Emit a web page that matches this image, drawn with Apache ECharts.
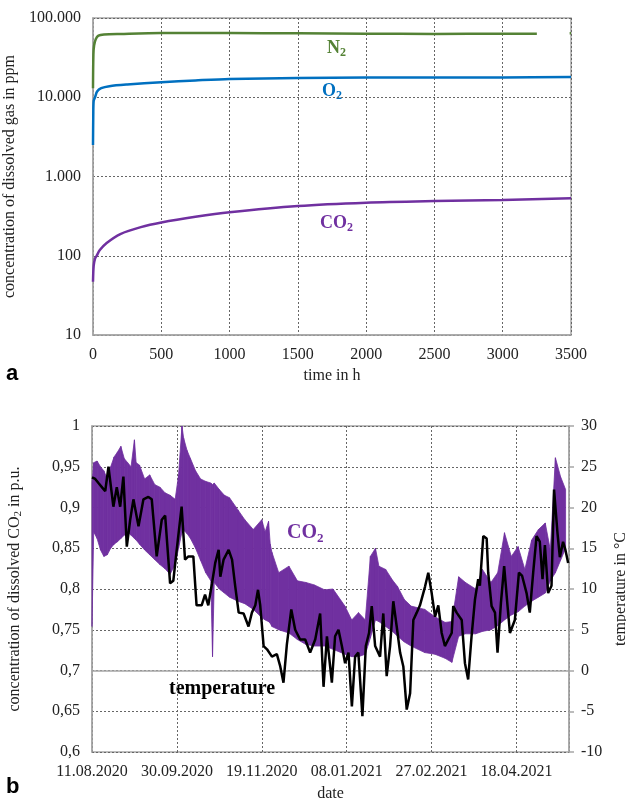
<!DOCTYPE html>
<html>
<head>
<meta charset="utf-8">
<script src="https://cdn.jsdelivr.net/npm/echarts@6/dist/echarts.min.js"></script>
<style>
  html, body { margin: 0; padding: 0; background: #fff; }
  #chart { width: 626px; height: 800px; }
</style>
</head>
<body>
<div id="chart"></div>
<script>
// (a) dissolved gas vs time, hours / ppm
var n2Time = [0, 3, 8, 20, 40, 80, 200, 500, 1000, 1500, 2000, 2500, 3000, 3250, null, 3490, 3500];
var n2Ppm  = [13000, 35000, 45000, 54000, 60000, 62000, 63000, 64500, 64500, 64000, 63500, 63000, 63500, 63500, null, 64000, 64000];
var o2Time = [0, 2, 5, 15, 30, 60, 120, 250, 500, 750, 1000, 1500, 2000, 2500, 3000, 3500];
var o2Ppm  = [2500, 6000, 9000, 10000, 11800, 13000, 13800, 14500, 15500, 16300, 17000, 17500, 17700, 17800, 17800, 18000];
var co2Time = [0, 5, 15, 27, 50, 100, 200, 350, 500, 750, 1000, 1500, 2000, 2500, 3000, 3500];
var co2Ppm  = [47, 75, 92, 100, 118, 145, 188, 230, 263, 310, 354, 425, 468, 490, 505, 530];
var logTicks = [10, 100, 1000, 10000, 100000];

// (b) field data, days since 11.08.2020
var startDate = Date.UTC(2020, 7, 11);
var bandDays = [0, 1, 3, 5, 7, 9, 11, 13, 15, 17, 19, 21, 23, 25, 26, 28, 31, 34, 37, 40, 43, 46, 49, 51, 53, 54, 56, 58, 61, 64, 67, 70, 71, 72, 75, 78, 81, 86, 90, 95, 100, 102, 104, 105, 106, 110, 116, 121, 126, 131, 137, 142, 149, 153, 157, 161, 164, 167, 169, 173, 177, 180, 184, 188, 196, 202, 208, 212, 216, 220, 226, 230, 235, 239, 243, 247, 251, 255, 259, 263, 267, 270, 273, 276, 279];
var co2High = [0.93, 0.955, 0.957, 0.95, 0.945, 0.935, 0.95, 0.962, 0.968, 0.975, 0.96, 0.955, 0.95, 0.983, 0.955, 0.952, 0.935, 0.94, 0.928, 0.925, 0.918, 0.915, 0.91, 0.94, 1.0, 0.985, 0.97, 0.96, 0.945, 0.935, 0.932, 0.93, 0.928, 0.93, 0.922, 0.915, 0.912, 0.897, 0.885, 0.873, 0.885, 0.87, 0.883, 0.855, 0.845, 0.82, 0.828, 0.81, 0.808, 0.805, 0.799, 0.80, 0.779, 0.762, 0.771, 0.762, 0.84, 0.85, 0.828, 0.824, 0.811, 0.803, 0.787, 0.779, 0.775, 0.766, 0.759, 0.76, 0.815, 0.808, 0.80, 0.824, 0.808, 0.82, 0.869, 0.84, 0.852, 0.824, 0.86, 0.873, 0.881, 0.848, 0.961, 0.938, 0.922];
var co2Low  = [0.754, 0.87, 0.862, 0.848, 0.84, 0.842, 0.85, 0.855, 0.858, 0.862, 0.866, 0.87, 0.866, 0.862, 0.86, 0.855, 0.848, 0.842, 0.836, 0.83, 0.825, 0.818, 0.83, 0.85, 0.87, 0.872, 0.868, 0.862, 0.85, 0.835, 0.82, 0.81, 0.717, 0.808, 0.80, 0.795, 0.79, 0.785, 0.782, 0.775, 0.765, 0.762, 0.76, 0.758, 0.754, 0.75, 0.746, 0.738, 0.732, 0.73, 0.73, 0.726, 0.72, 0.717, 0.717, 0.72, 0.74, 0.762, 0.76, 0.754, 0.748, 0.742, 0.735, 0.73, 0.722, 0.72, 0.715, 0.71, 0.742, 0.745, 0.745, 0.748, 0.75, 0.755, 0.762, 0.768, 0.772, 0.779, 0.785, 0.79, 0.795, 0.81, 0.82, 0.835, 0.85];
var tempDays = [0, 1.9, 3.8, 5.8, 7.8, 9.7, 12.6, 14.6, 16.6, 18.5, 20.5, 22.5, 24.4, 27.4, 30.3, 33.2, 35.2, 38.1, 41.1, 43.1, 46, 47.9, 49.9, 52.8, 54.8, 56.8, 59.7, 61.6, 64.6, 66.6, 68.5, 70.7, 72.6, 74.6, 75.6, 77.5, 80.5, 82.5, 84.4, 86.4, 89.3, 92.2, 94.2, 96.2, 97.8, 99.1, 101.1, 103.1, 106, 108.9, 110.9, 112.8, 114.8, 117.4, 119.7, 122.6, 125.6, 128.5, 131.5, 134.4, 136.4, 138.4, 139.3, 141.3, 143.2, 145.2, 147.2, 149.1, 151.1, 153.1, 155, 156.9, 159.3, 161.3, 163.2, 164.8, 166.8, 169.7, 171.6, 173.6, 175.6, 177.5, 179.5, 181.5, 183.4, 185.4, 187.4, 189.3, 191.3, 193.2, 196.2, 198.1, 200.1, 202.1, 204, 206, 207.9, 209.9, 211.9, 212.8, 214.8, 217.8, 219.7, 221.6, 223.6, 225.6, 227.5, 228.5, 230.5, 232.5, 233.4, 235.4, 237.4, 238.9, 240.9, 242.8, 244.8, 246.2, 249.1, 251.5, 253.4, 256, 257.9, 259.9, 261.9, 263.8, 265.4, 266.8, 268.7, 270.7, 272.2, 274.2, 275.6, 277.5, 278.9, 280.5];
var tempC = [23.7, 23.5, 23, 22.5, 22, 25, 20.1, 22.5, 20.1, 23.8, 15.2, 18.5, 21, 17.7, 21, 21.3, 21, 14, 18.5, 19, 10.7, 11, 14.8, 20.1, 13.6, 14, 14, 8, 8, 9.3, 8, 10.7, 13.2, 14.8, 11.5, 13.6, 14.8, 13.6, 10.3, 7.1, 7, 5.4, 7.1, 8, 9.9, 8, 3, 2.6, 1.7, 2, 0.5, -1.5, 3.2, 7.5, 5, 3.8, 3.8, 2.2, 3.8, 7, -2, 4.2, 4.2, -1.5, 4.2, 5, 3, 0.9, 2.2, -4.4, 1.7, 2.2, -5.6, 3, 4.6, 7.9, 3, 1.7, 7, -0.7, 3, 8.5, 5.4, 2.2, 0.5, -4.8, -2.8, 6.2, 7.1, 8, 10.3, 12, 9.5, 6.6, 8, 4.6, 3, 3.8, 4.6, 7.9, 7.1, 6.2, 0.9, -1.1, 4.2, 8.7, 11.2, 10.4, 16.5, 16.2, 12, 7.9, 7.1, 2.2, 8.3, 12.8, 7.9, 4.6, 6.2, 12, 11.6, 9.5, 7.1, 12, 16.5, 15.8, 11.2, 15.4, 9.5, 10.4, 22.2, 16.9, 13.9, 15.8, 14.8, 13.2];

function pairs(xs, ys) {
    var out = [];
    for (var i = 0; i < xs.length; i++) {
        out.push(xs[i] === null ? [null, null] : [xs[i], ys[i]]);
    }
    return out;
}
function pad(n) { return n < 10 ? '0' + n : '' + n; }
function dayLabel(d) {
    var dt = new Date(startDate + d * 86400000);
    return pad(dt.getUTCDate()) + '.' + pad(dt.getUTCMonth() + 1) + '.' + dt.getUTCFullYear();
}

// one item per segment of the band: [d0, low0, high0, d1, low1, high1]
var bandSegments = [];
for (var i = 0; i < bandDays.length - 1; i++) {
    bandSegments.push([bandDays[i], co2Low[i], co2High[i], bandDays[i + 1], co2Low[i + 1], co2High[i + 1]]);
}

var serif = '"Liberation Serif", "DejaVu Serif", serif';
var purple = '#7030a0';
var gridLine = { show: true, lineStyle: { color: '#666', type: [2, 2], width: 1 } };
var frame = { show: true, lineStyle: { color: '#a6a6a6', width: 1.5 } };
var tickFont = { color: '#222', fontFamily: serif, fontSize: 16 };
var nameFont = { color: '#222', fontFamily: serif, fontSize: 16 };

function subLabel(main, color, size) {
    return {
        text: '{b|' + main + '}{s|2}',
        rich: {
            b: { fontFamily: serif, fontWeight: 'bold', fontSize: size, fill: color },
            s: { fontFamily: serif, fontWeight: 'bold', fontSize: Math.round(size * 0.65), fill: color, padding: [Math.round(size * 0.55), 0, 0, 0] }
        }
    };
}

var chart = echarts.init(document.getElementById('chart'));
chart.setOption({
    animation: false,
    grid: [
        { left: 93, right: 55, top: 18, height: 317, outerBoundsMode: 'none', containLabel: false,
          show: true, borderColor: '#a6a6a6', borderWidth: 1.5 },
        { left: 92, right: 57, top: 426, height: 326, outerBoundsMode: 'none', containLabel: false,
          show: true, borderColor: '#a6a6a6', borderWidth: 1.5 }
    ],
    xAxis: [{
        gridIndex: 0, type: 'value', min: 0, max: 3500, interval: 500,
        name: 'time in h', nameLocation: 'middle', nameGap: 33, nameTextStyle: nameFont,
        axisLine: frame, axisTick: { show: false }, splitLine: gridLine,
        axisLabel: Object.assign({ margin: 12, formatter: function (v) { return String(v); } }, tickFont)
    }, {
        gridIndex: 1, type: 'value', min: 0, max: 281, interval: 50,
        name: 'date', nameLocation: 'middle', nameGap: 34, nameTextStyle: nameFont,
        axisLine: frame, axisTick: { show: false }, splitLine: gridLine,
        axisLabel: Object.assign({ margin: 12, showMaxLabel: false, formatter: dayLabel }, tickFont)
    }],
    yAxis: [{
        gridIndex: 0, type: 'log', logBase: 10, min: 10, max: 100000,
        name: 'concentration of dissolved gas in ppm', nameLocation: 'middle', nameGap: 70, nameRotate: 90,
        nameTextStyle: nameFont,
        axisLine: frame, axisTick: { show: false }, splitLine: gridLine,
        axisLabel: Object.assign({
            margin: 12,
            formatter: function (v) {
                var s = String(Math.round(v));
                return logTicks.indexOf(+s) > -1 ? s.replace(/\B(?=(\d{3})+(?!\d))/g, '.') : '';
            }
        }, tickFont)
    }, {
        gridIndex: 1, type: 'value', min: 0.6, max: 1, interval: 0.05,
        name: '{t|concentration of dissolved CO}{s|2}{t| in p.u.}', nameLocation: 'middle', nameGap: 68, nameRotate: 90,
        nameTextStyle: {
            color: '#222', fontFamily: serif, fontSize: 16,
            rich: {
                t: { color: '#222', fontFamily: serif, fontSize: 16 },
                s: { color: '#222', fontFamily: serif, fontSize: 11, padding: [8, 0, 0, 0] }
            }
        },
        axisLine: frame, axisTick: { show: false }, splitLine: gridLine,
        axisLabel: Object.assign({
            margin: 12,
            formatter: function (v) { return String(parseFloat(v.toFixed(2))).replace('.', ','); }
        }, tickFont)
    }, {
        gridIndex: 1, type: 'value', position: 'right', min: -10, max: 30, interval: 5,
        name: 'temperature in °C', nameLocation: 'middle', nameGap: 41, nameRotate: 90, nameTextStyle: nameFont,
        axisLine: frame, axisTick: { show: true, inside: false, length: 5, lineStyle: { color: '#a6a6a6', width: 1.5 } },
        splitLine: { show: false },
        axisLabel: Object.assign({ margin: 12 }, tickFont)
    }],
    series: [{
        name: 'N2', type: 'line', xAxisIndex: 0, yAxisIndex: 0,
        data: pairs(n2Time, n2Ppm), showSymbol: false, smooth: 0.3, connectNulls: false,
        lineStyle: { color: '#548235', width: 2.5 }
    }, {
        name: 'O2', type: 'line', xAxisIndex: 0, yAxisIndex: 0,
        data: pairs(o2Time, o2Ppm), showSymbol: false, smooth: 0.3,
        lineStyle: { color: '#0070c0', width: 2.5 }
    }, {
        name: 'CO2', type: 'line', xAxisIndex: 0, yAxisIndex: 0,
        data: pairs(co2Time, co2Ppm), showSymbol: false, smooth: 0.3,
        lineStyle: { color: purple, width: 2.5 }
    }, {
        // noisy CO2 signal drawn as its min/max band
        name: 'CO2 band', type: 'custom', xAxisIndex: 1, yAxisIndex: 1,
        data: bandSegments,
        encode: { x: [0, 3], y: [1, 2, 4, 5] },
        renderItem: function (params, api) {
            var lo0 = api.coord([api.value(0), api.value(1)]),
                hi0 = api.coord([api.value(0), api.value(2)]),
                lo1 = api.coord([api.value(3), api.value(4)]),
                hi1 = api.coord([api.value(3), api.value(5)]);
            return {
                type: 'polygon',
                shape: { points: [lo0, lo1, hi1, hi0] },
                style: { fill: purple, stroke: purple, lineWidth: 0.8 }
            };
        }
    }, {
        name: 'temperature', type: 'line', xAxisIndex: 1, yAxisIndex: 2,
        data: pairs(tempDays, tempC), showSymbol: false, z: 5,
        lineStyle: { color: '#000', width: 2.5 }
    }],
    graphic: [
        { type: 'text', left: 327, top: 39, style: subLabel('N', '#548235', 18) },
        { type: 'text', left: 322, top: 82, style: subLabel('O', '#0070c0', 18) },
        { type: 'text', left: 320, top: 214, style: subLabel('CO', purple, 18) },
        { type: 'text', left: 287, top: 523, style: subLabel('CO', purple, 20) },
        { type: 'text', left: 169, top: 679, style: { text: 'temperature', fontFamily: serif, fontWeight: 'bold', fontSize: 20, fill: '#000' } },
        { type: 'text', left: 6, top: 363, style: { text: 'a', fontFamily: '"Liberation Sans", Arial, sans-serif', fontWeight: 'bold', fontSize: 22, fill: '#000' } },
        { type: 'text', left: 6, top: 776, style: { text: 'b', fontFamily: '"Liberation Sans", Arial, sans-serif', fontWeight: 'bold', fontSize: 22, fill: '#000' } }
    ]
});
</script>
</body>
</html>
